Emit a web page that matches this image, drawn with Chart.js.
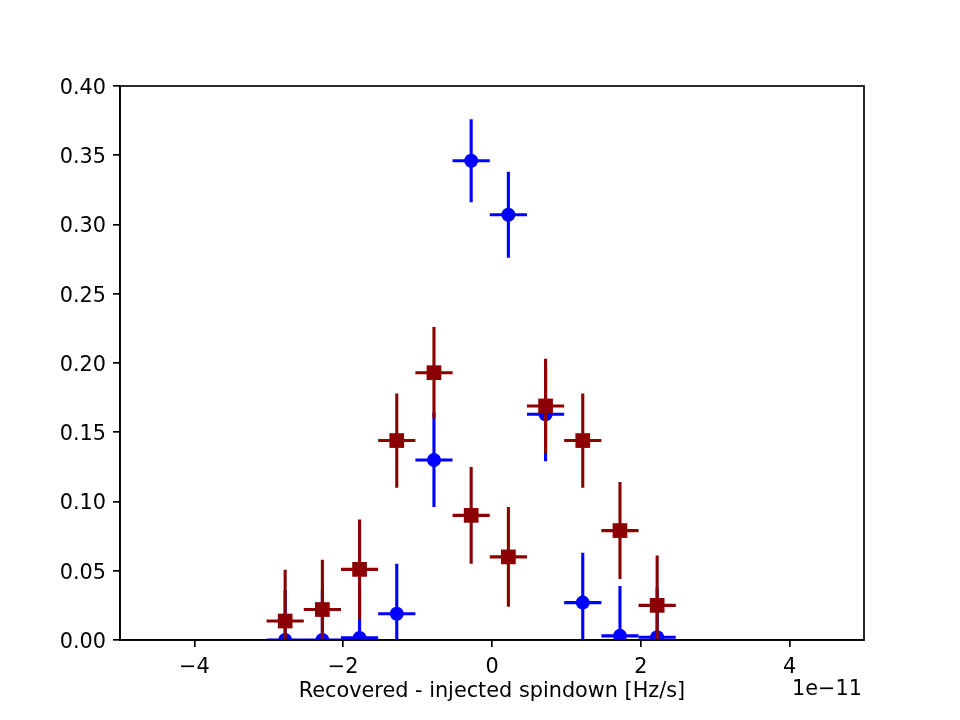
<!DOCTYPE html>
<html>
<head>
<meta charset="utf-8">
<script src="https://cdn.jsdelivr.net/npm/chart.js@4/dist/chart.umd.min.js"></script>
<style>
  html, body { margin: 0; padding: 0; background: #ffffff; }
  canvas { display: block; }
</style>
</head>
<body>
<canvas id="c" width="960" height="720"></canvas>
<script>
// ---- data ----
const binCenters = [-2.78, -2.28, -1.78, -1.28, -0.78, -0.28, 0.22, 0.72, 1.22, 1.72, 2.22];
const binHalfWidth = [0.25, 0.25, 0.25, 0.25, 0.25, 0.25, 0.25, 0.25, 0.25, 0.25, 0.25];
const blueValues = [0.000, 0.000, 0.0015, 0.019, 0.130, 0.346, 0.307, 0.163, 0.027, 0.003, 0.002];
const blueErrors = [0.036, 0.036, 0.036, 0.036, 0.034, 0.030, 0.031, 0.034, 0.036, 0.036, 0.036];
const redValues  = [0.0137, 0.022, 0.051, 0.144, 0.193, 0.090, 0.060, 0.169, 0.144, 0.079, 0.025];
const redErrors  = [0.037, 0.036, 0.036, 0.034, 0.033, 0.035, 0.036, 0.034, 0.034, 0.035, 0.036];
const xTicks = [-4, -2, 0, 2, 4];
const yTicks = [0, 0.05, 0.10, 0.15, 0.20, 0.25, 0.30, 0.35, 0.40];
const xTitle = 'Recovered - injected spindown [Hz/s]';
const xOffsetText = '1e\u221211';

const FONT = 'DejaVu Sans';
const FS = 20.8;

function toPoints(xs, ys, xe, ye) {
  return xs.map((x, i) => ({ x: x, y: ys[i], xErr: xe[i], yErr: ye[i] }));
}

const errorBarPlugin = {
  id: 'errorBars',
  beforeDatasetDraw(chart, args) {
    const ds = chart.data.datasets[args.index];
    const xs = chart.scales.x, ys = chart.scales.y;
    const ctx = chart.ctx, area = chart.chartArea;
    ctx.save();
    ctx.beginPath();
    ctx.rect(area.left, area.top, area.right - area.left, area.bottom - area.top);
    ctx.clip();
    ctx.strokeStyle = ds.borderColor;
    ctx.lineWidth = 3.1;
    ctx.lineCap = 'butt';
    ds.data.forEach(p => {
      const px = xs.getPixelForValue(p.x);
      const py = ys.getPixelForValue(p.y);
      const x0 = xs.getPixelForValue(p.x - p.xErr);
      const x1 = xs.getPixelForValue(p.x + p.xErr);
      const y0 = ys.getPixelForValue(p.y - p.yErr);
      const y1 = ys.getPixelForValue(p.y + p.yErr);
      ctx.beginPath();
      ctx.moveTo(px, y0); ctx.lineTo(px, y1);
      ctx.moveTo(x0, py); ctx.lineTo(x1, py);
      ctx.stroke();
    });
    ctx.restore();
  }
};

const framePlugin = {
  id: 'frame',
  afterDraw(chart) {
    const ctx = chart.ctx, a = chart.chartArea;
    ctx.save();
    ctx.strokeStyle = '#000000';
    ctx.lineWidth = 1.67;
    ctx.strokeRect(a.left, a.top, a.right - a.left, a.bottom - a.top);
    ctx.fillStyle = '#000000';
    ctx.font = FS + 'px "' + FONT + '"';
    ctx.textAlign = 'right';
    ctx.textBaseline = 'middle';
    ctx.fillText(xOffsetText, a.right - 2, 690);
    ctx.restore();
  }
};

new Chart(document.getElementById('c'), {
  type: 'scatter',
  data: {
    datasets: [
      {
        label: 'blue',
        data: toPoints(binCenters, blueValues, binHalfWidth, blueErrors),
        borderColor: '#0000ff',
        backgroundColor: '#0000ff',
        pointStyle: 'circle',
        pointRadius: 7,
        pointBorderWidth: 0,
        pointHoverRadius: 7,
        clip: 0,
        order: 1
      },
      {
        label: 'red',
        data: toPoints(binCenters, redValues, binHalfWidth, redErrors),
        borderColor: '#8b0000',
        backgroundColor: '#8b0000',
        pointStyle: 'rect',
        pointRadius: 10.4,
        pointBorderWidth: 0,
        pointHoverRadius: 10.4,
        clip: 0,
        order: 0
      }
    ]
  },
  options: {
    responsive: false,
    animation: false,
    devicePixelRatio: 1,
    events: [],
    layout: { padding: { top: 86, right: 96, left: 0, bottom: 0 } },
    plugins: { legend: { display: false }, tooltip: { enabled: false } },
    scales: {
      x: {
        type: 'linear',
        min: -5, max: 5,
        afterBuildTicks: s => { s.ticks = xTicks.map(v => ({ value: v })); },
        afterFit: s => { s.height = 80; },
        grid: { drawOnChartArea: false, drawTicks: true, tickLength: 7, color: '#000000', lineWidth: 1.67 },
        border: { display: true, color: '#000000', width: 1.67 },
        ticks: {
          color: '#000000', padding: 8, maxRotation: 0,
          font: { family: FONT, size: FS },
          callback: v => (v < 0 ? '\u2212' + Math.abs(v) : String(v))
        },
        title: {
          display: true, text: xTitle, color: '#000000',
          font: { family: FONT, size: FS },
          padding: { top: 0, bottom: 16 }
        }
      },
      y: {
        type: 'linear',
        min: 0, max: 0.4,
        afterBuildTicks: s => { s.ticks = yTicks.map(v => ({ value: v })); },
        afterFit: s => { s.width = 120; },
        grid: { drawOnChartArea: false, drawTicks: true, tickLength: 7, color: '#000000', lineWidth: 1.67 },
        border: { display: true, color: '#000000', width: 1.67 },
        ticks: {
          color: '#000000', padding: 7, labelOffset: 2.5,
          font: { family: FONT, size: FS },
          callback: v => Number(v).toFixed(2)
        }
      }
    }
  },
  plugins: [errorBarPlugin, framePlugin]
});
</script>
</body>
</html>
